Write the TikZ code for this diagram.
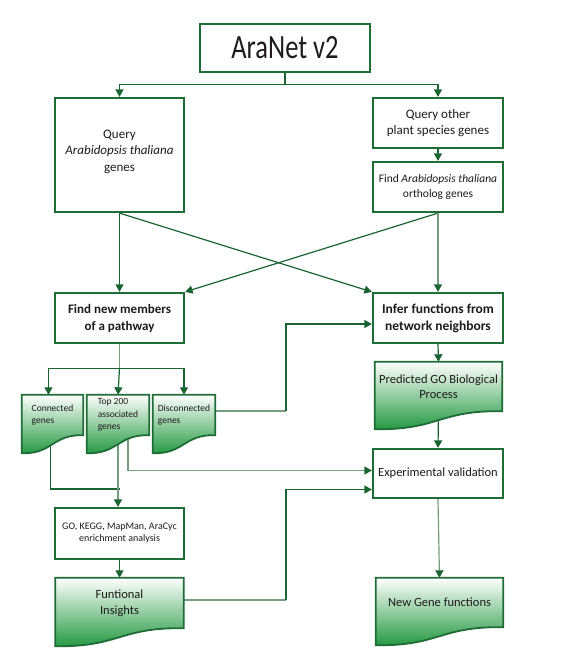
\documentclass[tikz,border=0pt]{standalone}
\usepackage{fontspec}
\setmainfont{Carlito}
\usetikzlibrary{arrows.meta,calc}
\pgfdeclarelayer{edges}
\pgfdeclarelayer{docs}
\pgfsetlayers{edges,docs,main}
\definecolor{boxgreen}{RGB}{30,108,54}
\definecolor{linegreen}{RGB}{26,100,50}
\definecolor{palegreen}{RGB}{118,158,126}
\definecolor{docgreen}{RGB}{34,152,64}
\definecolor{txtgray}{RGB}{30,26,27}

\begin{document}
\begin{tikzpicture}[x=1pt, y=-1pt,
  box/.style={draw=boxgreen, line width=2.2pt, text=txtgray, align=center, inner sep=2pt},
  doc/.style={text=txtgray, align=center, inner sep=1pt},
  docshape/.style={draw=boxgreen, line width=1.8pt, top color=white, bottom color=docgreen},
  link/.style={draw=linegreen, line width=1.2pt},
  pale/.style={draw=palegreen, line width=1.2pt},
  tip/.style={-{Triangle[width=8pt, length=7.5pt, color=linegreen]}},
]
\useasboundingbox (0,0) rectangle (580,672);

\begin{scope}[every node/.style={font=\fontsize{13}{16.5}\selectfont}]
\node (title) at (285,48) [box, minimum width=170pt, minimum height=48pt, font=\fontsize{34}{36}\selectfont] {\scalebox{0.78}[1]{AraNet v2}};
\node (qat) at (119.5,155) [box, minimum width=129pt, minimum height=114pt] {Query\\\textit{Arabidopsis thaliana}\\genes\\[-8pt]};
\node (qother) at (438,123) [box, minimum width=130pt, minimum height=50pt] {Query other\\plant species genes};
\node (ortho) at (438,187) [box, minimum width=130pt, minimum height=50pt, font=\fontsize{11.5}{15}\selectfont] {Find \textit{Arabidopsis thaliana}\\ortholog genes};
\node (findnew) at (119.5,318) [box, minimum width=129pt, minimum height=50pt, font=\fontsize{13}{17}\selectfont\bfseries] {Find new members\\of a pathway};
\node (infer) at (438,318) [box, minimum width=130pt, minimum height=50pt, font=\fontsize{13.5}{17}\selectfont\bfseries] {Infer functions from\\network neighbors};
\node (pred) at (438.5,386.5) [doc, minimum width=127pt, minimum height=49pt, font=\fontsize{12.5}{15.5}\selectfont] {Predicted GO Biological\\Process};
\node (conn) at (52.5,415) [doc, align=left, minimum width=61pt, minimum height=40pt, font=\fontsize{9.5}{12.5}\selectfont] {Connected\\genes};
\node (top200) at (118,415) [doc, align=left, minimum width=62pt, minimum height=40pt, font=\fontsize{9.5}{12.5}\selectfont] {Top 200\\associated\\genes};
\node (disc) at (184,415) [doc, align=left, minimum width=62pt, minimum height=40pt, font=\fontsize{9.5}{12.5}\selectfont] {Disconnected\\genes};
\node (exp) at (438,473.5) [box, minimum width=130pt, minimum height=49pt, font=\fontsize{12.5}{15.5}\selectfont] {Experimental validation};
\node (go) at (119.5,533.5) [box, minimum width=129pt, minimum height=51pt, font=\fontsize{10}{12}\selectfont] {GO, KEGG, MapMan, AraCyc\\enrichment analysis};
\node (funct) at (119.5,603) [doc, minimum width=128pt, minimum height=50pt, font=\fontsize{12.5}{15.5}\selectfont] {Funtional\\Insights};
\node (newfn) at (439.5,602.5) [doc, minimum width=127pt, minimum height=49pt, font=\fontsize{12.5}{15.5}\selectfont] {New Gene functions};
\end{scope}

\begin{pgfonlayer}{docs}
\foreach \d in {conn,top200,disc,pred,funct,newfn}
  \draw[docshape] (\d.south east) -- (\d.north east) -- (\d.north west) -- ($(\d.south west)+(0,18)$)
    .. controls ($(\d.south west)!0.5!(\d.south east)+(0,19)$) and ($(\d.south west)!0.5!(\d.south east)+(0,-1)$) .. (\d.south east) -- cycle;
\end{pgfonlayer}

\coordinate (bus) at (286,0);
\coordinate (discout) at ([yshift=4pt]disc.east);
\coordinate (functout) at ([yshift=3pt]funct.east);
\begin{pgfonlayer}{edges}
\draw[link] (title.south) -- ++(0,11) coordinate (fork);
\draw[link, tip] (fork) -| (qat.north);
\draw[link, tip] (fork) -| (qother.north);
\draw[link, tip] (qother.south) -- (ortho.north);
\draw[link, tip] (qat.south) -- (findnew.north);
\draw[link, tip] (qat.south) -- (infer.north west);
\draw[link, tip] (ortho.south) -- (findnew.north east);
\draw[pale, tip] (ortho.south) -- (infer.north);
\draw[link, tip] (infer.south) -- (pred.north);
\draw[pale] (findnew.south) -- ++(0,24) coordinate (split);
\draw[link, tip] (split) -| ([xshift=-4pt]conn.north);
\draw[link, tip] (split) -- (top200.north);
\draw[link, tip] (split) -| (disc.north);
\draw[pale] (discout) -- (bus |- discout);
\draw[link, tip] (bus |- discout) |- ([yshift=-6pt]infer.west);
\draw[pale, tip] ([xshift=10pt]top200.south) |- ([yshift=3pt]exp.west);
\draw[link, tip] (pred.south) -- (exp.north);
\draw[link] ([xshift=-2pt]conn.south) |- ([yshift=18pt]go.north);
\draw[pale, tip] (top200.south) -- (top200.south |- go.north);
\draw[link, tip] (go.south) -- (funct.north);
\draw[pale] (functout) -- (bus |- functout);
\draw[link, tip] (bus |- functout) |- ([yshift=-16pt]exp.west);
\draw[pale, tip] (exp.south) -- (newfn.north);
\end{pgfonlayer}

\end{tikzpicture}
\end{document}
